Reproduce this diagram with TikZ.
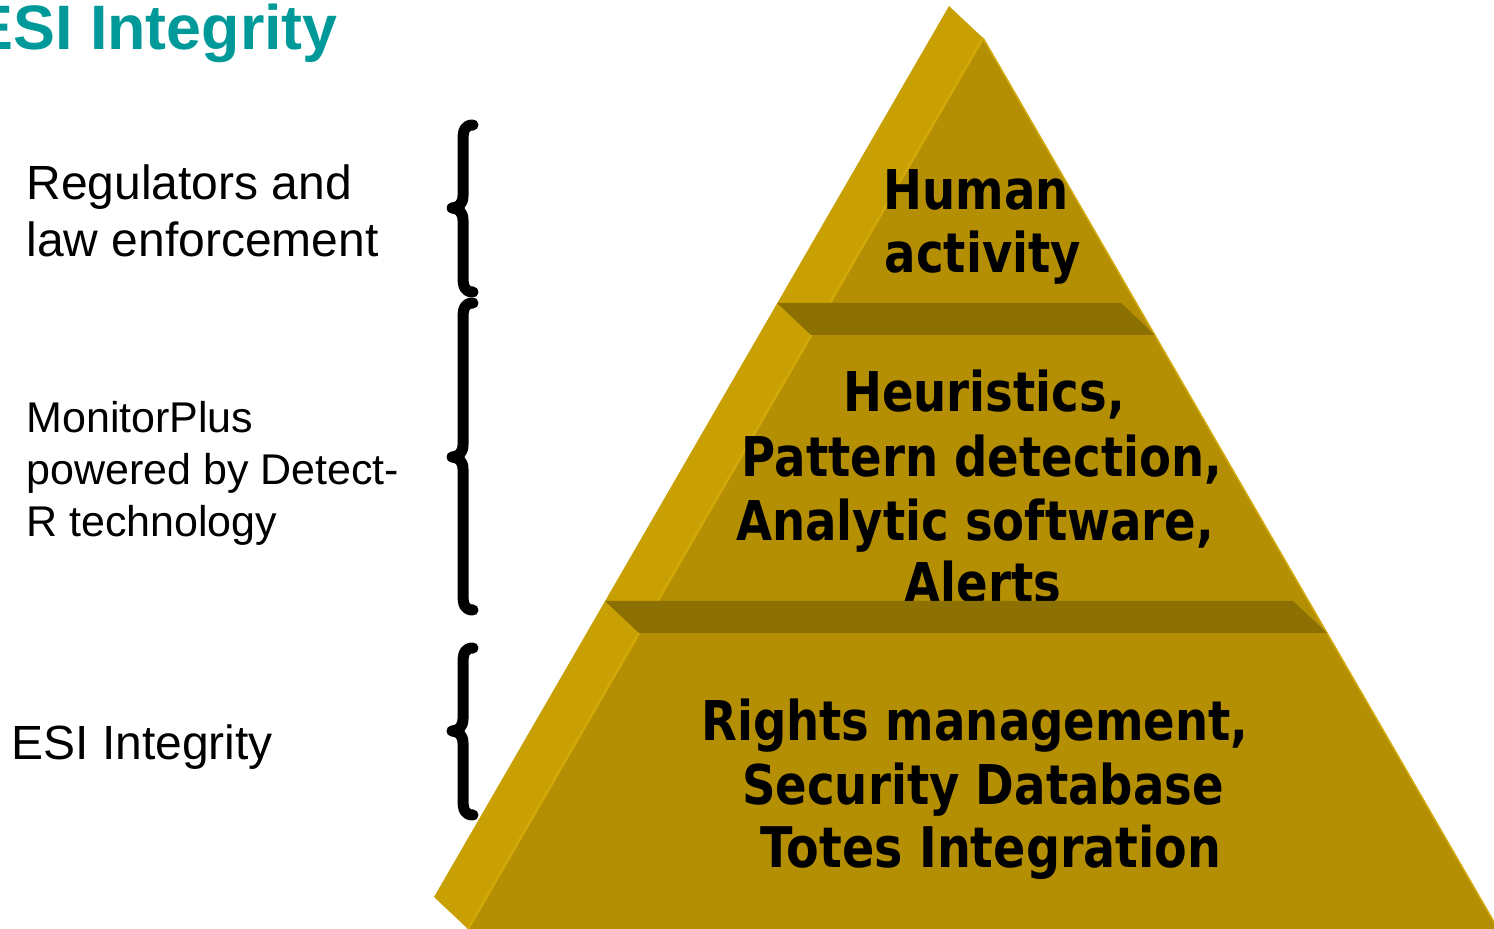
\documentclass[tikz,border=0pt]{standalone}
\usepackage{fontspec}
\setmainfont{Liberation Sans}
\newfontfamily\pyrfont[FakeStretch=0.85]{DejaVu Sans}
\definecolor{sideface}{HTML}{C9A004}
\definecolor{frontface}{HTML}{B58F03}
\definecolor{bandface}{HTML}{8C7002}
\definecolor{edgeline}{HTML}{D2A908}
\definecolor{titleteal}{HTML}{009999}
\begin{document}
\begin{tikzpicture}[x=0.5pt,y=-0.5pt,
  pyrtext/.style={font=\pyrfont\bfseries\fontsize{27.4}{32}\selectfont, anchor=base, inner sep=0pt, text=black},
  lbltext/.style={font=\fontsize{24}{28}\selectfont, anchor=base west, inner sep=0pt},
  smalllbl/.style={font=\fontsize{21.5}{26}\selectfont, anchor=base west, inner sep=0pt},
  braceline/.style={line width=5.5pt, line cap=round, line join=round},
  titletext/.style={font=\bfseries\fontsize{31.4}{36}\selectfont, text=titleteal, anchor=base west, inner sep=0pt}]
\useasboundingbox (0,0) rectangle (1494,929);
\clip (0,0) rectangle (1494,929);

% title
\node[titletext] (title) at (-29,50) {ESI Integrity};

% pyramid: side face, front face
\fill[sideface] (983,38) -- (949,6) -- (434,897) -- (468,929) -- cycle;
\fill[frontface] (983,38) -- (468,929) -- (1498,929) -- cycle;
\draw[edgeline, line width=1.2pt] (983,38) -- (468,929);
\draw[edgeline, line width=0.8pt] (983,38) -- (1498,929);

% pyramid texts
\node[pyrtext] (h1) at (976,210) {Human};
\node[pyrtext] (h2) at (983,273) {activity};
\node[pyrtext] (m1) at (984,412) {Heuristics,};
\node[pyrtext] (m2) at (982,477) {Pattern detection,};
\node[pyrtext] (m3) at (975,541) {Analytic software,};
\node[pyrtext] (m4) at (983,603) {Alerts};
\node[pyrtext] (b1) at (975,741) {Rights management,};
\node[pyrtext] (b2) at (983,805) {Security Database};
\node[pyrtext, font=\pyrfont\bfseries\fontsize{28}{32}\selectfont] (b3) at (991,868) {Totes Integration};

% bands between layers
\fill[bandface] (777,303) -- (1121,303) -- (1155,335) -- (811,335) -- cycle;
\fill[bandface] (605,601) -- (1293,601) -- (1327,633) -- (639,633) -- cycle;

% left labels
\node[lbltext] (reg1) at (26,200) {Regulators and};
\node[lbltext] (reg2) at (26,257) {law enforcement};
\node[smalllbl] (mon1) at (26,433) {MonitorPlus};
\node[smalllbl] (mon2) at (26,485) {powered by Detect-};
\node[smalllbl] (mon3) at (26,537) {R technology};
\node[lbltext] (esi) at (11,760) {ESI Integrity};

% braces
\draw[braceline] (473,125) .. controls (465,125) and (463,130) .. (463,140) -- (463,196)
  .. controls (463,204) and (458,208) .. (452,208) .. controls (458,208) and (463,212) .. (463,220)
  -- (463,277) .. controls (463,287) and (465,292) .. (473,292);
\draw[braceline] (473,303) .. controls (465,303) and (463,308) .. (463,318) -- (463,445)
  .. controls (463,453) and (458,457) .. (452,457) .. controls (458,457) and (463,461) .. (463,469)
  -- (463,595) .. controls (463,605) and (465,610) .. (473,610);
\draw[braceline] (473,648) .. controls (465,648) and (463,653) .. (463,663) -- (463,719)
  .. controls (463,727) and (458,731) .. (452,731) .. controls (458,731) and (463,735) .. (463,743)
  -- (463,800) .. controls (463,810) and (465,815) .. (473,815);
\end{tikzpicture}
\end{document}
